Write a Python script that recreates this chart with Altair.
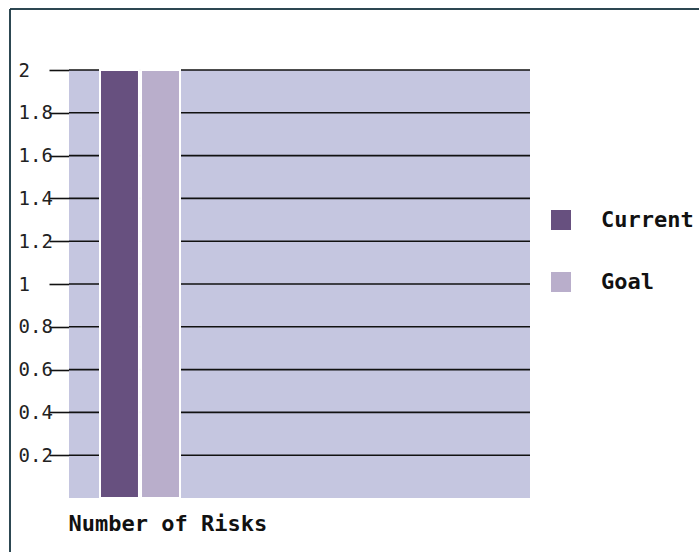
import altair as alt
import pandas as pd

series = ["Current", "Goal"]
values = [2, 2]
category = "Number of Risks"
y_ticks = [0.2, 0.4, 0.6, 0.8, 1.0, 1.2, 1.4, 1.6, 1.8, 2.0]
colors = ["#67507f", "#b9aecb"]

df = pd.DataFrame({"series": series, "value": values, "category": [category] * len(series)})
ticks_df = pd.DataFrame({"value": y_ticks})

MONO = "DejaVu Sans Mono"
W, H = 461, 428

y_scale = alt.Scale(domain=[0, 2], nice=False, zero=True)
y_axis = alt.Axis(
    values=y_ticks, title=None, domain=False, grid=False,
    tickColor="#111111", tickSize=20, tickWidth=1.6,
    labelAlign="left", labelPadding=31, labelBaseline="middle",
    labelFont=MONO, labelFontSize=19, labelColor="#222222",
    labelExpr="datum.value == 2 ? '2' : datum.value == 1 ? '1' : format(datum.value, '.1f')",
)

plot_bg = alt.Chart(df).mark_rect(color="#c5c6e0").encode(
    x=alt.value(0), x2=alt.value(W), y=alt.value(0), y2=alt.value(H)
)

grid = alt.Chart(ticks_df).mark_rule(color="#111111", strokeWidth=1.6).encode(
    y=alt.Y("value:Q", scale=y_scale, axis=y_axis),
    x=alt.value(0), x2=alt.value(W),
)

bars = alt.Chart(df).mark_bar(stroke="white", strokeWidth=2).encode(
    x=alt.X(
        "series:N",
        scale=alt.Scale(domain=series, range=[31, 111], paddingInner=0.05, paddingOuter=0),
        axis=alt.Axis(
            labels=False, ticks=False, domain=False, grid=False,
            title=category, titleAnchor="start", titleAlign="left",
            titleX=-1, titleY=25, titleBaseline="middle",
            titleFont=MONO, titleFontWeight="bold", titleFontSize=22, titleColor="#111111",
        ),
    ),
    y=alt.Y("value:Q", scale=y_scale, axis=y_axis),
    color=alt.Color(
        "series:N",
        scale=alt.Scale(domain=series, range=colors),
        legend=alt.Legend(
            title=None, orient="none", legendX=481, legendY=139,
            symbolType="square", symbolSize=400, symbolStrokeWidth=0,
            rowPadding=40, labelOffset=29, padding=0,
            labelFont=MONO, labelFontWeight="bold", labelFontSize=22, labelColor="#111111",
        ),
    ),
)

top_border = alt.Chart(df).mark_rule(color="#1f3b47", strokeWidth=1.5).encode(
    x=alt.value(-59), x2=alt.value(630), y=alt.value(-61)
)
left_border = alt.Chart(df).mark_rule(color="#1f3b47", strokeWidth=1.5).encode(
    x=alt.value(-59), y=alt.value(-61), y2=alt.value(482)
)

chart = alt.layer(plot_bg, grid, bars, top_border, left_border).resolve_scale(
    y="shared"
).properties(
    width=W, height=H,
    autosize=alt.AutoSizeParams(type="none"),
    padding={"left": 69, "top": 70, "right": 169, "bottom": 54},
    background="white",
).configure_view(stroke=None)

chart.save("out.html", embed_options={"renderer": "svg", "actions": False})
